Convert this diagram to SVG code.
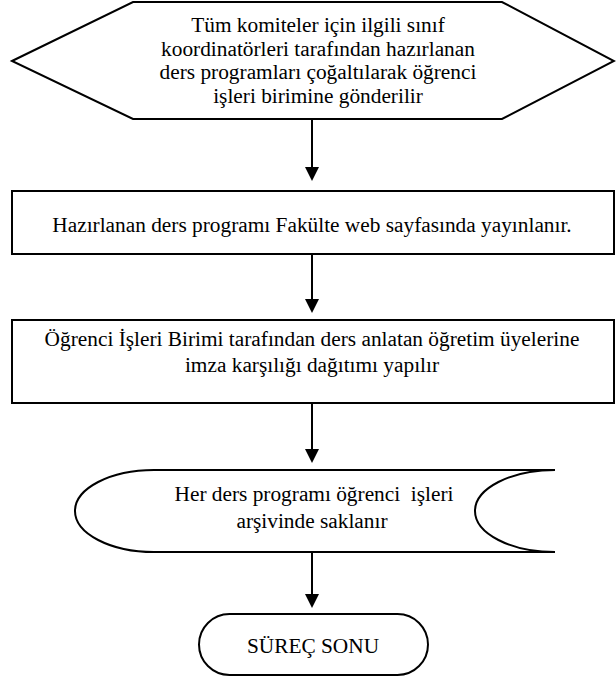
<svg xmlns="http://www.w3.org/2000/svg" width="616" height="680" viewBox="0 0 616 680">
  <style>
    .shape { fill: #ffffff; stroke: #000000; stroke-width: 2; }
    .label { font-size: 21.33px; fill: #000000; text-anchor: middle; }
    .conn { fill: none; stroke: #000000; stroke-width: 2; }
  </style>
  <defs>
    <marker id="arrow" viewBox="0 0 14 14" markerWidth="14" markerHeight="14" markerUnits="userSpaceOnUse" refX="0" refY="7" orient="auto">
      <path d="M0,0 L14,7 L0,14 Z" fill="#000000"/>
    </marker>
  </defs>
  <rect width="616" height="680" fill="#ffffff"/>

  <g id="node-start">
    <polygon class="shape" points="12,61 133,2 502,2 614,61 502,119 133,119"/>
    <text class="label" font-family="Liberation Serif, serif" x="318" y="32">Tüm komiteler için ilgili sınıf</text>
    <text class="label" font-family="Liberation Serif, serif" x="318" y="55.5">koordinatörleri tarafından hazırlanan</text>
    <text class="label" font-family="Liberation Serif, serif" x="318" y="79">ders programları çoğaltılarak öğrenci</text>
    <text class="label" font-family="Liberation Serif, serif" x="318" y="102.5">işleri birimine gönderilir</text>
  </g>

  <g id="node-web">
    <rect class="shape" x="12" y="191" width="602" height="63"/>
    <text class="label" font-family="Liberation Serif, serif" x="312" y="232">Hazırlanan ders programı Fakülte web sayfasında yayınlanır.</text>
  </g>

  <g id="node-distribute">
    <rect class="shape" x="12" y="320" width="602" height="83"/>
    <text class="label" font-family="Liberation Serif, serif" x="312" y="346">Öğrenci İşleri Birimi tarafından ders anlatan öğretim üyelerine</text>
    <text class="label" font-family="Liberation Serif, serif" x="312" y="372">imza karşılığı dağıtımı yapılır</text>
  </g>

  <g id="node-archive">
    <path class="shape" d="M154,470 L555,470 A80,41 0 0 0 555,552 L154,552 A79,41 0 0 1 154,470 Z"/>
    <text class="label" font-family="Liberation Serif, serif" x="314" y="501" style="white-space:pre">Her ders programı öğrenci  işleri</text>
    <text class="label" font-family="Liberation Serif, serif" x="312" y="528">arşivinde saklanır</text>
  </g>

  <g id="node-end">
    <rect class="shape" x="199" y="614" width="229" height="61" rx="30.5" ry="30.5"/>
    <text class="label" font-family="Liberation Serif, serif" x="313" y="653">SÜREÇ SONU</text>
  </g>

  <g id="connectors">
    <path class="conn" d="M312,120 L312,167" marker-end="url(#arrow)"/>
    <path class="conn" d="M312,254 L312,299" marker-end="url(#arrow)"/>
    <path class="conn" d="M312,403 L312,449" marker-end="url(#arrow)"/>
    <path class="conn" d="M312,552 L312,594" marker-end="url(#arrow)"/>
  </g>
</svg>
